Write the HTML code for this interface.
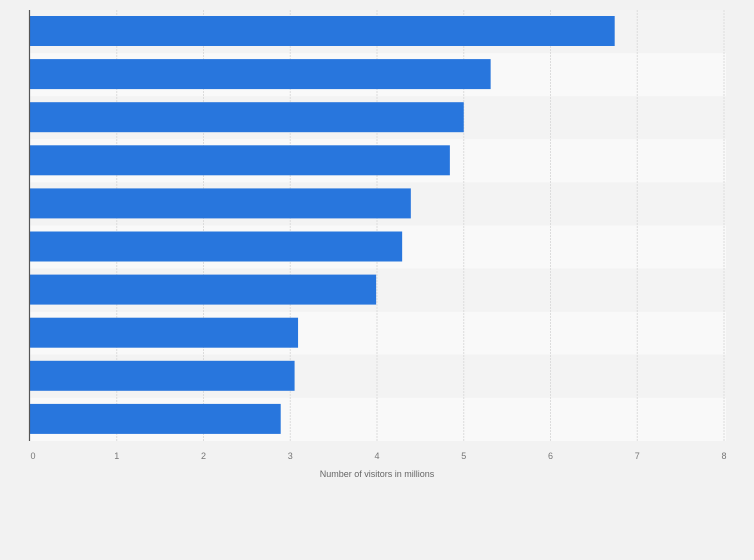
<!DOCTYPE html>
<html><head><meta charset="utf-8"><style>
body{margin:0;background:#f2f2f2;}
svg{display:block;font-family:"Liberation Sans",sans-serif;}
</style></head><body>
<svg id="chart" width="754" height="560" viewBox="0 0 754 560">
<rect x="0" y="0" width="754" height="560" fill="#f2f2f2"/>
<g id="bands"></g><g id="grid"></g><g id="bars"></g><g id="ticks"></g>
<line x1="29.5" y1="10" x2="29.5" y2="441" stroke="#555" stroke-width="1.2"/>
<text x="377" y="477" text-anchor="middle" font-size="9" fill="#666">Number of visitors in millions</text>
</svg>
<script>
const categories = ["Item 1","Item 2","Item 3","Item 4","Item 5","Item 6","Item 7","Item 8","Item 9","Item 10"];
const visitors = [6.74, 5.31, 5.0, 4.84, 4.39, 4.29, 3.99, 3.09, 3.05, 2.89];
const xTicks = [0,1,2,3,4,5,6,7,8];
const ns="http://www.w3.org/2000/svg";
const x0=30, x1=724, xMax=8, yTop=10, yBot=441;
const xs=v=>x0+(v/xMax)*(x1-x0);
const rowH=(yBot-yTop)/categories.length;
const bands=document.getElementById('bands'),grid=document.getElementById('grid'),bars=document.getElementById('bars'),ticks=document.getElementById('ticks');
categories.forEach((c,i)=>{
  const r=document.createElementNS(ns,'rect');
  r.setAttribute('x',x0);r.setAttribute('y',yTop+i*rowH);r.setAttribute('width',x1-x0+2);r.setAttribute('height',rowH);
  r.setAttribute('fill',i%2?'#f9f9f9':'#f3f3f3');
  
  
  bands.appendChild(r);
});
xTicks.forEach(t=>{
  if(t>0){const l=document.createElementNS(ns,'line');
  l.setAttribute('x1',xs(t));l.setAttribute('x2',xs(t));l.setAttribute('y1',yTop);l.setAttribute('y2',yBot);
  l.setAttribute('stroke','#dcdcdc');l.setAttribute('stroke-dasharray','2,1');
  
  
  grid.appendChild(l);}
  const tx=document.createElementNS(ns,'text');
  tx.setAttribute('x',xs(t)+(t===0?3:0));tx.setAttribute('y',459);tx.setAttribute('text-anchor','middle');
  tx.setAttribute('font-size','9');tx.setAttribute('fill','#777');tx.textContent=t;
  
  
  ticks.appendChild(tx);
});
visitors.forEach((v,i)=>{
  const r=document.createElementNS(ns,'rect');
  r.setAttribute('x',x0);r.setAttribute('y',yTop+i*rowH+6);r.setAttribute('width',xs(v)-x0);r.setAttribute('height',30);
  r.setAttribute('fill','#2876dd');
  
  
  bars.appendChild(r);
});
</script>
</body></html>
